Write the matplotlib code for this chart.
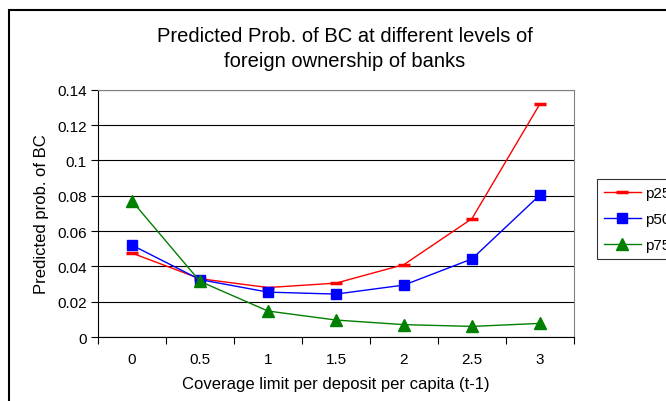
import matplotlib
matplotlib.use("Agg")
import matplotlib.pyplot as plt
from matplotlib.patches import Rectangle

plt.rcParams["font.family"] = ["Liberation Sans", "DejaVu Sans"]

# coverage limit categories
categories = ["0", "0.5", "1", "1.5", "2", "2.5", "3"]
p25 = [0.0475, 0.033, 0.028, 0.0305, 0.041, 0.067, 0.132]
p50 = [0.052, 0.0325, 0.0254, 0.0243, 0.0294, 0.0442, 0.0804]
p75 = [0.077, 0.0315, 0.0147, 0.0096, 0.007, 0.006, 0.0077]
yticks = [0, 0.02, 0.04, 0.06, 0.08, 0.1, 0.12, 0.14]
ytick_labels = ["0", "0.02", "0.04", "0.06", "0.08", "0.1", "0.12", "0.14"]

fig = plt.figure(figsize=(6.66, 4.02), dpi=100)
ax = fig.add_axes([0.1471, 0.1592, 0.7147, 0.6152])

x = list(range(len(categories)))
ax.plot(x, p25, color="#FF0000", lw=1.0, marker="_", markersize=9, mew=2.5, label="p25")
ax.plot(x, p50, color="#0000FF", lw=1.0, marker="s", markersize=7, label="p50")
ax.plot(x, p75, color="#008000", lw=1.0, marker="^", markersize=8, label="p75")

ax.set_xlim(-0.5, len(categories) - 0.5)
ax.set_ylim(0, 0.14)
ax.set_yticks(yticks)
ax.set_yticklabels(ytick_labels, fontsize=11)
ax.yaxis.grid(True, color="black", lw=0.8)
ax.set_axisbelow(True)

# ticks between categories, labels at centres
ax.set_xticks([i - 0.5 for i in range(len(categories) + 1)])
ax.set_xticklabels([])
ax.set_xticks(x, minor=True)
ax.set_xticklabels(categories, minor=True, fontsize=11)
ax.tick_params(axis="x", which="major", direction="out", length=5, color="black")
ax.tick_params(axis="x", which="minor", length=0, pad=11)
ax.tick_params(axis="y", direction="out", length=5, pad=3)

for s in ("top", "right"):
    ax.spines[s].set_color("#808080")
for s in ("left", "bottom"):
    ax.spines[s].set_color("black")

ax.set_xlabel("Coverage limit per deposit per capita (t-1)", fontsize=12, labelpad=7)
ax.set_ylabel("Predicted prob. of BC", fontsize=12, labelpad=6)

fig.text(0.518, 0.91, "Predicted Prob. of BC at different levels of",
         ha="center", va="center", fontsize=14.5)
fig.text(0.518, 0.846, "foreign ownership of banks",
         ha="center", va="center", fontsize=14.5)

leg = ax.legend(loc="upper left", bbox_to_anchor=(597 / 666, 1 - 180 / 402),
                bbox_transform=fig.transFigure, frameon=True, fancybox=False,
                fontsize=11, handlelength=2.4, handletextpad=0.3,
                borderpad=0.45, labelspacing=0.8, borderaxespad=0)
leg.get_frame().set_edgecolor("black")
leg.get_frame().set_linewidth(0.8)

# outer chart border (cropped)
fig.add_artist(Rectangle((9 / 666, -0.1), 1.2, 1 - 11 / 402 + 0.1,
                         transform=fig.transFigure, fill=False,
                         ec="black", lw=1.5))

fig.savefig("out.png", dpi=100)
